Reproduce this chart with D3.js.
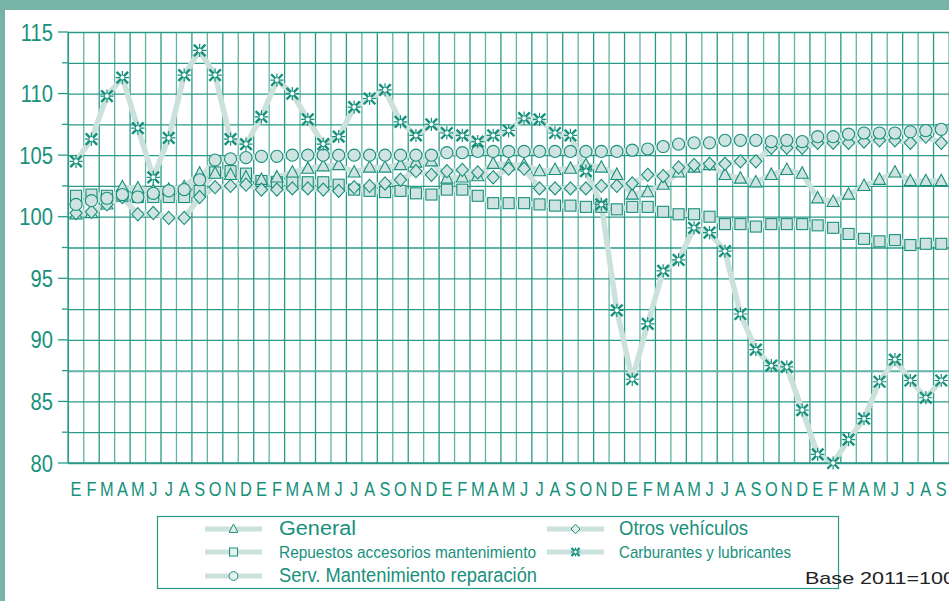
<!DOCTYPE html>
<html><head><meta charset="utf-8">
<script src="https://cdn.jsdelivr.net/npm/d3@7"></script>
<style>
html,body{margin:0;padding:0;background:#fff;overflow:hidden;}
svg{display:block;}
</style></head>
<body>
<svg id="chart" width="949" height="601"></svg>
<script>
const xTickLabels = ["E","F","M","A","M","J","J","A","S","O","N","D",
  "E","F","M","A","M","J","J","A","S","O","N","D",
  "E","F","M","A","M","J","J","A","S","O","N","D",
  "E","F","M","A","M","J","J","A","S","O","N","D",
  "E","F","M","A","M","J","J","A","S"];
const yTickValues = [80,82.5,85,87.5,90,92.5,95,97.5,100,102.5,105,107.5,110,112.5,115];
const yTickLabels = [80,85,90,95,100,105,110,115];

const general = [100.2,100.3,101.0,102.4,102.3,102.1,102.2,102.4,103.5,103.5,
103.4,103.2,103.0,103.2,103.6,103.9,104.1,104.2,103.6,104.0,
104.0,104.2,104.4,104.5,103.1,103.2,103.3,104.3,104.2,104.2,
103.7,103.8,103.9,104.2,104.0,103.4,101.8,102.0,102.6,103.6,
104.0,104.2,103.4,103.1,102.8,103.4,103.8,103.5,101.5,101.2,
101.8,102.5,103.0,103.6,102.9,102.9,102.9];
const repuestos = [101.7,101.8,101.7,101.7,101.6,101.6,101.6,101.6,102.1,103.6,
103.7,103.5,102.9,102.8,102.8,102.8,102.8,102.6,102.2,102.1,
102.0,102.1,101.9,101.8,102.2,102.2,101.7,101.1,101.1,101.1,
101.0,100.9,100.9,100.8,100.8,100.6,100.8,100.8,100.4,100.2,
100.2,100.0,99.4,99.4,99.2,99.4,99.4,99.4,99.3,99.1,
98.6,98.2,98.0,98.1,97.7,97.8,97.8];
const otros = [100.3,100.4,101.0,101.6,100.2,100.3,99.9,99.9,101.6,102.4,
102.5,102.6,102.2,102.2,102.3,102.3,102.2,102.1,102.4,102.5,
102.7,103.0,103.7,103.4,103.7,103.8,103.6,103.2,103.9,103.9,
102.3,102.3,102.3,102.3,102.5,102.5,102.7,103.4,103.3,104.0,
104.2,104.3,104.3,104.5,104.5,105.6,105.6,105.6,106.0,106.0,
106.0,106.1,106.2,106.2,106.0,106.5,106.0];
const serv = [101.0,101.3,101.5,101.8,101.6,101.9,102.1,102.2,103.0,104.6,
104.7,104.8,104.9,104.9,105.0,105.0,105.0,105.0,105.0,105.0,
105.0,105.0,105.0,105.0,105.2,105.2,105.3,105.3,105.3,105.3,
105.3,105.3,105.3,105.3,105.3,105.3,105.4,105.5,105.7,105.9,
106.0,106.0,106.2,106.2,106.2,106.1,106.2,106.1,106.5,106.5,
106.7,106.8,106.8,106.8,106.9,107.0,107.1];
const carburantes = [104.5,106.3,109.8,111.3,107.2,103.2,106.4,111.5,113.5,111.5,
106.3,105.9,108.1,111.1,110.0,107.9,105.9,106.5,108.9,109.6,
110.3,107.7,106.6,107.5,106.8,106.6,106.1,106.6,107.0,108.0,
107.9,106.8,106.6,103.7,101.0,92.4,86.8,91.3,95.6,96.5,
99.1,98.7,97.2,92.1,89.2,87.9,87.8,84.3,80.7,80.0,
81.9,83.6,86.6,88.4,86.7,85.3,86.7];

const seriesNames = ["General","Otros vehículos","Repuestos accesorios mantenimiento","Carburantes y lubricantes","Serv. Mantenimiento reparación"];

const TEAL = "#17907c";
const GRID = "#2a9a88";
const LINE = "#cbe1dc";
const FILL = "#cfe4e0";
const FONT = "'Liberation Sans',Arial,sans-serif";

const svg = d3.select("#chart");
svg.append("rect").attr("x",0).attr("y",0).attr("width",949).attr("height",601).attr("fill","#fff");
svg.append("rect").attr("x",0).attr("y",0).attr("width",949).attr("height",10).attr("fill","#78b3a8");
svg.append("rect").attr("x",0).attr("y",0).attr("width",5).attr("height",601).attr("fill","#78b3a8");

const pL = 68.3, pR = 949, pT = 32, pB = 463;
const x = d3.scaleBand().domain(d3.range(xTickLabels.length)).range([pL, pR]).padding(0);
const y = d3.scaleLinear().domain([80,115]).range([pB, pT]);
const cx = i => x(i) + x.bandwidth()/2;

// vertical grid
const vb = d3.range(xTickLabels.length + 1).map(i => i === xTickLabels.length ? pR : x(i));
svg.append("g").selectAll("line").data(vb).join("line")
  .attr("x1", d=>d).attr("x2", d=>d).attr("y1", pT).attr("y2", pB)
  .attr("stroke", (d,i)=> i%2 ? "#5fb5a7" : GRID).attr("stroke-width", 1.3);
// horizontal grid via axis
const gy = svg.append("g").attr("transform",`translate(${pL},0)`)
  .call(d3.axisLeft(y).tickValues(yTickValues).tickSize(-(pR-pL)).tickFormat(""));
gy.select(".domain").remove();
gy.selectAll(".tick line").attr("stroke", d => d===87.5 ? "#5fb5a7" : GRID).attr("stroke-width", d=> d===87.5 ? 2 : 1.3);
// left ticks
svg.append("g").selectAll("line").data(yTickValues).join("line")
  .attr("x1", d => (d%5===0) ? 58 : 62).attr("x2", pL)
  .attr("y1", d=>y(d)).attr("y2", d=>y(d)).attr("stroke", GRID).attr("stroke-width",1.3);
svg.append("line").attr("x1",pL).attr("x2",pL).attr("y1",pT).attr("y2",pB).attr("stroke",GRID).attr("stroke-width",1.5);
svg.append("line").attr("x1",pL).attr("x2",pR).attr("y1",pB).attr("y2",pB).attr("stroke",GRID).attr("stroke-width",1.5);

// y labels
svg.append("g").selectAll("text").data(yTickLabels).join("text")
  .attr("transform", d => `translate(53,${y(d)+8.5}) scale(0.84,1)`)
  .attr("text-anchor","end").attr("font-family",FONT)
  .attr("font-size", 24).attr("fill", TEAL).text(d=>d);
// x labels
svg.append("g").selectAll("text").data(xTickLabels).join("text")
  .attr("transform", (d,i) => `translate(${cx(i)},496) scale(0.78,1)`)
  .attr("text-anchor","middle").attr("font-family",FONT)
  .attr("font-size", 21).attr("fill", TEAL).text(d=>d);

function marker(g, type, s){
  if(type==="circle") g.append("circle").attr("r", s*0.55);
  else if(type==="square") g.append("rect").attr("x",-s*0.5).attr("y",-s*0.5).attr("width",s).attr("height",s);
  else if(type==="triangle") g.append("path").attr("d",`M0,${-s*0.62}L${s*0.55},${s*0.42}L${-s*0.55},${s*0.42}Z`);
  else if(type==="diamond") g.append("path").attr("d",`M0,${-s*0.6}L${s*0.55},0L0,${s*0.6}L${-s*0.55},0Z`);
  else if(type==="star"){
    const r = s*0.5;
    g.append("path").attr("d",`M${-r},${-r}L${r},${r}M${-r},${r}L${r},${-r}`).attr("stroke-width",2.4).attr("fill","none");
    g.append("path").attr("d",`M0,${-r*1.15}L0,${r*1.15}M${-r*1.15},0L${r*1.15},0`).attr("stroke-width",1.2).attr("fill","none");
    g.append("circle").attr("r", r*0.35).attr("fill","#fff").attr("stroke","none");
  }
}

const line = d3.line().x((d,i)=>cx(i)).y(d=>y(d));
const series = [
  {data: repuestos, type:"square"},
  {data: general, type:"triangle"},
  {data: otros, type:"diamond"},
  {data: serv, type:"circle"},
  {data: carburantes, type:"star"}
];
series.forEach(s => {
  svg.append("path").datum(s.data).attr("d", line).attr("fill","none")
    .attr("stroke", LINE).attr("stroke-width", 5.5).attr("stroke-linejoin","round");
});
series.forEach(s => {
  const g = svg.append("g");
  g.selectAll("g").data(s.data).join("g")
    .attr("transform",(d,i)=>`translate(${cx(i)},${y(d)})`)
    .attr("fill",FILL).attr("stroke",TEAL).attr("stroke-width",1.1)
    .each(function(){ marker(d3.select(this), s.type, s.type==="star"?11.5:11); });
});

// legend
const lg = svg.append("g");
lg.append("rect").attr("x",157.5).attr("y",516.5).attr("width",681).attr("height",72)
  .attr("fill","#fff").attr("stroke","#2a9a88").attr("stroke-width",1.2);
const legendItems = [
  {name: seriesNames[0], type:"triangle", lx:205, tx:279, y:529, fs:20, tl:77},
  {name: seriesNames[2], type:"square", lx:205, tx:279, y:552, fs:17, tl:257},
  {name: seriesNames[4], type:"circle", lx:205, tx:279, y:576, fs:20, tl:258},
  {name: seriesNames[1], type:"diamond", lx:547, tx:619, y:529, fs:20, tl:129},
  {name: seriesNames[3], type:"star", lx:547, tx:619, y:552, fs:17, tl:172}
];
legendItems.forEach(it => {
  lg.append("line").attr("x1",it.lx).attr("x2",it.lx+57).attr("y1",it.y).attr("y2",it.y)
    .attr("stroke",LINE).attr("stroke-width",5);
  const m = lg.append("g").attr("transform",`translate(${it.lx+28.5},${it.y})`)
    .attr("fill","#e6f1ef").attr("stroke",TEAL).attr("stroke-width",1);
  marker(m, it.type, 8);
  lg.append("text").attr("x",it.tx).attr("y",it.y+6).attr("font-family",FONT)
    .attr("font-size",it.fs).attr("fill",TEAL).attr("textLength",it.tl).attr("lengthAdjust","spacingAndGlyphs")
    .text(it.name);
});
svg.append("text").attr("x",805).attr("y",584).attr("font-family",FONT)
  .attr("font-size",17).attr("fill","#222").attr("textLength",150).attr("lengthAdjust","spacingAndGlyphs")
  .text("Base 2011=100");
</script>
</body></html>
